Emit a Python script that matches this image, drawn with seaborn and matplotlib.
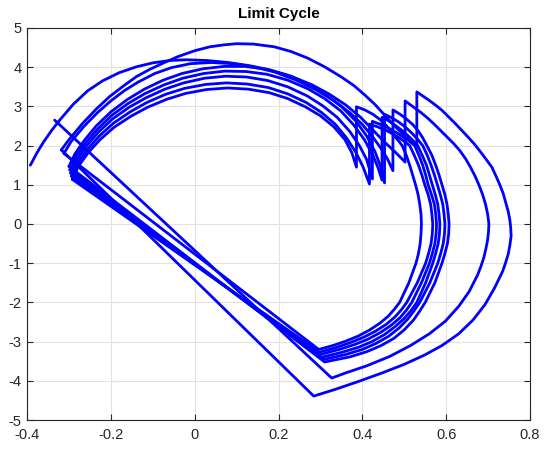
import matplotlib
matplotlib.use("Agg")
import pandas as pd
import matplotlib.pyplot as plt
import seaborn as sns

# upper arcs: left corner -> bottom of the jump
top_1 = [(-0.392, 1.50), (-0.376, 1.82), (-0.360, 2.10), (-0.341, 2.39), (-0.322, 2.65),
         (-0.290, 3.05), (-0.255, 3.40), (-0.220, 3.65), (-0.180, 3.86), (-0.139, 4.01),
         (-0.100, 4.11), (-0.060, 4.17), (-0.020, 4.19), (0.030, 4.17), (0.080, 4.12),
         (0.130, 4.04), (0.180, 3.93), (0.230, 3.77), (0.280, 3.55), (0.320, 3.32),
         (0.360, 3.04), (0.395, 2.73), (0.425, 2.40), (0.452, 2.10), (0.478, 1.84),
         (0.502, 1.58)]
top_2 = [(-0.318, 1.89), (-0.300, 2.15), (-0.267, 2.57), (-0.235, 2.93), (-0.203, 3.25),
         (-0.170, 3.52), (-0.139, 3.76), (-0.108, 3.94), (-0.076, 4.10), (-0.040, 4.27),
         (0.000, 4.42), (0.036, 4.52), (0.070, 4.57), (0.100, 4.60), (0.140, 4.59),
         (0.190, 4.52), (0.230, 4.40), (0.270, 4.23), (0.310, 4.01), (0.350, 3.75),
         (0.380, 3.53), (0.406, 3.29), (0.430, 3.05), (0.453, 2.78), (0.475, 2.52),
         (0.500, 2.26), (0.530, 1.97)]
top_3 = [(-0.312, 1.80), (-0.295, 2.10), (-0.265, 2.48), (-0.232, 2.84), (-0.200, 3.14),
         (-0.168, 3.40), (-0.135, 3.62), (-0.095, 3.84), (-0.055, 3.99), (-0.010, 4.09),
         (0.040, 4.12), (0.090, 4.09), (0.140, 4.01), (0.190, 3.88), (0.240, 3.68),
         (0.290, 3.42), (0.330, 3.16), (0.370, 2.84), (0.400, 2.54), (0.425, 2.22),
         (0.445, 1.92), (0.460, 1.66), (0.473, 1.36)]
top_4 = [(-0.300, 1.47), (-0.285, 1.80), (-0.262, 2.15), (-0.235, 2.50), (-0.200, 2.86),
         (-0.160, 3.18), (-0.120, 3.44), (-0.075, 3.67), (-0.030, 3.84), (0.020, 3.96),
         (0.070, 4.02), (0.120, 4.02), (0.170, 3.95), (0.220, 3.80), (0.270, 3.57),
         (0.310, 3.32), (0.350, 3.00), (0.385, 2.62), (0.410, 2.25), (0.430, 1.85),
         (0.443, 1.48), (0.453, 1.05)]
top_5 = [(-0.298, 1.38), (-0.283, 1.72), (-0.260, 2.07), (-0.232, 2.42), (-0.198, 2.77),
         (-0.158, 3.08), (-0.118, 3.33), (-0.073, 3.55), (-0.028, 3.72), (0.022, 3.84),
         (0.072, 3.90), (0.122, 3.89), (0.172, 3.82), (0.222, 3.67), (0.270, 3.45),
         (0.310, 3.20), (0.348, 2.89), (0.380, 2.52), (0.405, 2.15), (0.425, 1.76),
         (0.438, 1.42), (0.447, 1.12)]
top_6 = [(-0.296, 1.30), (-0.281, 1.64), (-0.258, 1.99), (-0.230, 2.34), (-0.196, 2.68),
         (-0.156, 2.98), (-0.116, 3.22), (-0.071, 3.44), (-0.026, 3.60), (0.024, 3.72),
         (0.074, 3.77), (0.124, 3.75), (0.174, 3.66), (0.222, 3.50), (0.268, 3.27),
         (0.305, 3.02), (0.340, 2.72), (0.370, 2.36), (0.393, 2.00), (0.410, 1.65),
         (0.424, 1.15)]
top_7 = [(-0.294, 1.22), (-0.279, 1.56), (-0.256, 1.90), (-0.228, 2.24), (-0.194, 2.57),
         (-0.154, 2.86), (-0.114, 3.10), (-0.069, 3.31), (-0.024, 3.46), (0.026, 3.56),
         (0.076, 3.60), (0.126, 3.57), (0.176, 3.48), (0.222, 3.32), (0.266, 3.10),
         (0.302, 2.85), (0.335, 2.55), (0.362, 2.20), (0.385, 1.82), (0.402, 1.45),
         (0.417, 1.02)]
top_8 = [(-0.292, 1.14), (-0.277, 1.48), (-0.254, 1.82), (-0.226, 2.15), (-0.192, 2.47),
         (-0.152, 2.75), (-0.112, 2.98), (-0.067, 3.18), (-0.022, 3.33), (0.028, 3.43),
         (0.078, 3.47), (0.128, 3.44), (0.178, 3.35), (0.222, 3.20), (0.264, 2.99),
         (0.300, 2.76), (0.332, 2.48), (0.358, 2.16), (0.375, 1.82), (0.386, 1.45)]

# right-hand arcs: top of the jump -> lower corner
right_1 = [(0.502, 3.14), (0.520, 3.00), (0.538, 2.86), (0.556, 2.70), (0.572, 2.54),
           (0.588, 2.37), (0.604, 2.20), (0.618, 2.05), (0.632, 1.88), (0.646, 1.67),
           (0.658, 1.45), (0.669, 1.22), (0.678, 1.00), (0.687, 0.75), (0.694, 0.50),
           (0.699, 0.25), (0.702, 0.00), (0.701, -0.20), (0.699, -0.40), (0.695, -0.62),
           (0.690, -0.85), (0.683, -1.08), (0.675, -1.30), (0.655, -1.72), (0.630, -2.10),
           (0.598, -2.48), (0.560, -2.80), (0.515, -3.10), (0.465, -3.38), (0.410, -3.62),
           (0.360, -3.80), (0.327, -3.93)]
right_2 = [(0.530, 3.37), (0.545, 3.26), (0.560, 3.15), (0.575, 3.03), (0.590, 2.90),
           (0.606, 2.73), (0.622, 2.56), (0.637, 2.39), (0.652, 2.22), (0.668, 2.03),
           (0.682, 1.84), (0.696, 1.64), (0.709, 1.45), (0.719, 1.22), (0.728, 1.00),
           (0.736, 0.78), (0.742, 0.55), (0.748, 0.32), (0.752, 0.10), (0.754, -0.10),
           (0.755, -0.30), (0.752, -0.54), (0.748, -0.77), (0.742, -0.98), (0.735, -1.20),
           (0.716, -1.62), (0.693, -2.05), (0.664, -2.45), (0.630, -2.80), (0.590, -3.10),
           (0.549, -3.34), (0.500, -3.58), (0.447, -3.80), (0.390, -4.02), (0.335, -4.22),
           (0.284, -4.39)]
right_3 = [(0.473, 2.91), (0.490, 2.80), (0.505, 2.68), (0.520, 2.54), (0.533, 2.38),
           (0.544, 2.20), (0.554, 2.00), (0.566, 1.75), (0.575, 1.50), (0.583, 1.25),
           (0.590, 1.00), (0.597, 0.75), (0.602, 0.50), (0.605, 0.25), (0.607, 0.00),
           (0.606, -0.25), (0.603, -0.50), (0.597, -0.75), (0.590, -1.00), (0.573, -1.50),
           (0.550, -2.00), (0.537, -2.22), (0.522, -2.45), (0.500, -2.70), (0.475, -2.92),
           (0.445, -3.10), (0.410, -3.26), (0.370, -3.39), (0.310, -3.52)]
right_4 = [(0.453, 2.80), (0.470, 2.71), (0.487, 2.60), (0.503, 2.47), (0.518, 2.32),
           (0.532, 2.16), (0.544, 2.00), (0.555, 1.75), (0.564, 1.50), (0.572, 1.25),
           (0.579, 1.00), (0.586, 0.75), (0.592, 0.50), (0.595, 0.25), (0.597, 0.00),
           (0.596, -0.25), (0.593, -0.50), (0.587, -0.75), (0.580, -1.00), (0.561, -1.50),
           (0.537, -2.00), (0.523, -2.22), (0.508, -2.43), (0.487, -2.66), (0.462, -2.87),
           (0.432, -3.05), (0.400, -3.20), (0.360, -3.33), (0.306, -3.46)]
right_5 = [(0.447, 2.72), (0.463, 2.63), (0.478, 2.52), (0.493, 2.40), (0.507, 2.27),
           (0.520, 2.14), (0.532, 2.00), (0.543, 1.75), (0.553, 1.50), (0.560, 1.25),
           (0.567, 1.00), (0.574, 0.75), (0.580, 0.50), (0.583, 0.25), (0.585, 0.00),
           (0.584, -0.25), (0.581, -0.50), (0.575, -0.75), (0.568, -1.00), (0.551, -1.50),
           (0.530, -2.00), (0.516, -2.21), (0.500, -2.41), (0.478, -2.62), (0.453, -2.82),
           (0.423, -3.00), (0.392, -3.14), (0.352, -3.27), (0.303, -3.40)]
right_6 = [(0.424, 2.62), (0.443, 2.54), (0.462, 2.45), (0.480, 2.34), (0.496, 2.23),
           (0.511, 2.12), (0.525, 2.00), (0.535, 1.75), (0.544, 1.50), (0.551, 1.25),
           (0.557, 1.00), (0.565, 0.75), (0.572, 0.50), (0.575, 0.25), (0.577, 0.00),
           (0.576, -0.25), (0.573, -0.50), (0.567, -0.75), (0.560, -1.00), (0.541, -1.50),
           (0.518, -2.00), (0.505, -2.20), (0.490, -2.39), (0.468, -2.59), (0.443, -2.77),
           (0.413, -2.94), (0.383, -3.07), (0.345, -3.20), (0.300, -3.33)]
right_7 = [(0.417, 2.55), (0.436, 2.48), (0.455, 2.40), (0.472, 2.30), (0.488, 2.20),
           (0.501, 2.10), (0.513, 2.00), (0.524, 1.75), (0.534, 1.50), (0.542, 1.25),
           (0.549, 1.00), (0.557, 0.75), (0.563, 0.50), (0.566, 0.25), (0.568, 0.00),
           (0.567, -0.25), (0.564, -0.50), (0.558, -0.75), (0.551, -1.00), (0.531, -1.50),
           (0.506, -2.00), (0.493, -2.19), (0.478, -2.37), (0.457, -2.56), (0.432, -2.73),
           (0.403, -2.89), (0.373, -3.02), (0.338, -3.15), (0.298, -3.27)]
right_8 = [(0.386, 2.99), (0.406, 2.91), (0.425, 2.80), (0.443, 2.66), (0.458, 2.50),
           (0.470, 2.35), (0.480, 2.20), (0.488, 2.10), (0.495, 2.00), (0.505, 1.75),
           (0.513, 1.50), (0.520, 1.25), (0.527, 1.00), (0.533, 0.75), (0.537, 0.50),
           (0.540, 0.25), (0.541, 0.00), (0.540, -0.25), (0.538, -0.50), (0.534, -0.75),
           (0.528, -1.00), (0.511, -1.50), (0.489, -2.00), (0.476, -2.18), (0.462, -2.35),
           (0.442, -2.53), (0.418, -2.70), (0.390, -2.86), (0.360, -2.99), (0.330, -3.10),
           (0.296, -3.20)]

# end of the straight return line after each cycle
line_end = [(-0.334, 2.65), (-0.318, 1.89), (-0.300, 1.47), (-0.298, 1.38),
            (-0.296, 1.30), (-0.294, 1.22), (-0.292, 1.14), (-0.312, 1.80)]

x_ticks = [-0.4, -0.2, 0, 0.2, 0.4, 0.6, 0.8]
x_tick_labels = ["-0.4", "-0.2", "0", "0.2", "0.4", "0.6", "0.8"]
y_ticks = [-5, -4, -3, -2, -1, 0, 1, 2, 3, 4, 5]
y_tick_labels = ["-5", "-4", "-3", "-2", "-1", "0", "1", "2", "3", "4", "5"]

tops = [top_1, top_2, top_3, top_4, top_5, top_6, top_7, top_8]
rights = [right_1, right_2, right_3, right_4, right_5, right_6, right_7, right_8]

rows = []
for i, (t, r, e) in enumerate(zip(tops, rights, line_end)):
    for k, (x, y) in enumerate(t + r + [e]):
        rows.append({"cycle": i + 1, "order": k, "x": x, "y": y})
df = pd.DataFrame(rows)

sns.set_theme(style="ticks")
plt.rcParams["font.family"] = ["Liberation Sans", "DejaVu Sans"]
plt.rcParams["axes.unicode_minus"] = False

fig = plt.figure(figsize=(5.5, 4.54), dpi=100)
ax = fig.add_axes([27 / 550, 34 / 454, 503 / 550, 392 / 454])

sns.lineplot(data=df, x="x", y="y", units="cycle", estimator=None, sort=False,
             color="#0000ff", linewidth=2.0, ax=ax)

ax.set_xlim(-0.4, 0.8)
ax.set_ylim(-5, 5)
ax.set_xticks(x_ticks)
ax.set_xticklabels(x_tick_labels)
ax.set_yticks(y_ticks)
ax.set_yticklabels(y_tick_labels)
ax.grid(True, color="#e2e2e2", linewidth=0.8)
ax.set_axisbelow(True)
ax.tick_params(direction="in", top=True, right=True, length=4, width=0.8,
               colors="#262626", labelsize=10.5)
ax.tick_params(axis="x", pad=6)
ax.tick_params(axis="y", pad=4)
for s in ax.spines.values():
    s.set_color("#262626")
    s.set_linewidth(0.8)
ax.set_xlabel("")
ax.set_ylabel("")
ax.set_title("Limit Cycle", fontsize=11, fontweight="bold", color="black", pad=7)

fig.savefig("out.png", dpi=100)
